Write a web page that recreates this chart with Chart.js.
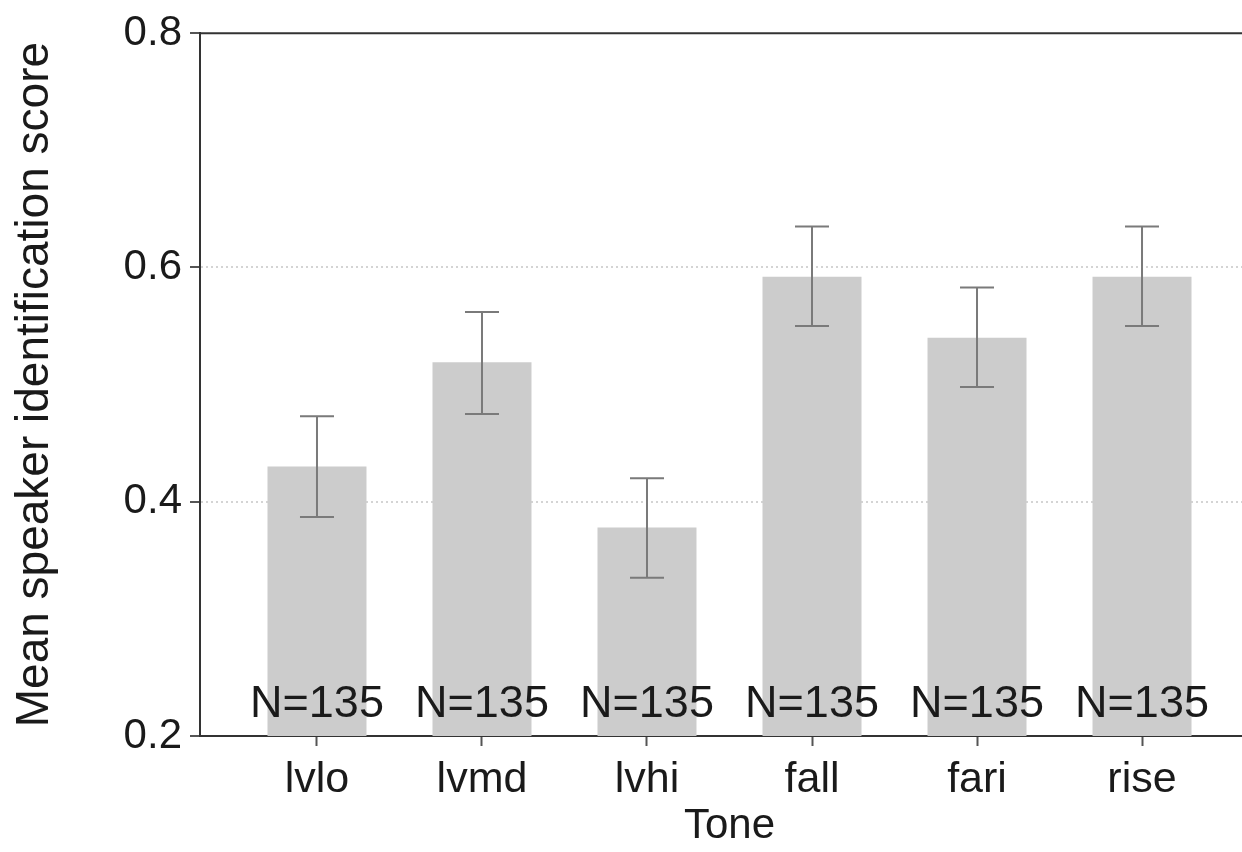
<!DOCTYPE html>
<html>
<head>
<meta charset="utf-8">
<script src="https://cdn.jsdelivr.net/npm/chart.js@4.4.0/dist/chart.umd.min.js"></script>
<style>
    html, body { margin: 0; padding: 0; background: #fff; overflow: hidden; }
    .chart-wrapper { width: 1280px; height: 852px; }
</style>
</head>
<body>
<div class="chart-wrapper"><canvas id="toneChart" width="1280" height="852"></canvas></div>
<script>
var tones = ['lvlo', 'lvmd', 'lvhi', 'fall', 'fari', 'rise'];
var meanScores = [0.430, 0.519, 0.378, 0.592, 0.540, 0.592];
var errLow = [0.387, 0.475, 0.335, 0.550, 0.498, 0.550];
var errHigh = [0.473, 0.562, 0.420, 0.635, 0.583, 0.635];
var counts = [135, 135, 135, 135, 135, 135];
var yTicks = [0.2, 0.4, 0.6, 0.8];

var fontFamily = '"Liberation Sans", Arial, Helvetica, sans-serif';

// error whiskers, top frame line and N= labels
var extrasPlugin = {
    id: 'extras',
    afterDatasetsDraw: function (chart) {
        var ctx = chart.ctx;
        var yScale = chart.scales.y;
        var area = chart.chartArea;
        var meta = chart.getDatasetMeta(0);
        ctx.save();
        ctx.strokeStyle = '#7a7a7a';
        ctx.lineWidth = 2;
        meta.data.forEach(function (bar, i) {
            var x = bar.x;
            var yLo = yScale.getPixelForValue(errLow[i]);
            var yHi = yScale.getPixelForValue(errHigh[i]);
            ctx.beginPath();
            ctx.moveTo(x, yLo);
            ctx.lineTo(x, yHi);
            ctx.moveTo(x - 17, yHi);
            ctx.lineTo(x + 17, yHi);
            ctx.moveTo(x - 17, yLo);
            ctx.lineTo(x + 17, yLo);
            ctx.stroke();
        });

        ctx.fillStyle = '#1a1a1a';
        ctx.font = '45px ' + fontFamily;
        ctx.textAlign = 'center';
        ctx.textBaseline = 'alphabetic';
        meta.data.forEach(function (bar, i) {
            ctx.fillText('N=' + counts[i], bar.x, area.bottom - 19);
        });

        ctx.strokeStyle = '#333';
        ctx.lineWidth = 2;
        ctx.beginPath();
        ctx.moveTo(area.left, area.top);
        ctx.lineTo(area.right, area.top);
        ctx.stroke();
        ctx.restore();
    }
};

var data = tones.map(function (t, i) {
    return {x: i, y: meanScores[i]};
});

new Chart(document.getElementById('toneChart').getContext('2d'), {
    type: 'bar',
    data: {
        datasets: [{
            label: 'Mean speaker identification score',
            data: data,
            backgroundColor: '#cccccc',
            borderWidth: 0,
            barPercentage: 0.6,
            categoryPercentage: 1.0
        }]
    },
    options: {
        responsive: false,
        animation: false,
        layout: {
            padding: {top: 32, right: 21, bottom: 0, left: 0}
        },
        plugins: {
            legend: {display: false},
            tooltip: {enabled: false}
        },
        scales: {
            x: {
                type: 'linear',
                offset: false,
                min: -0.709,
                max: 5.709,
                afterBuildTicks: function (scale) {
                    scale.ticks = tones.map(function (t, i) {
                        return {value: i};
                    });
                },
                afterFit: function (scale) {
                    scale.height = 116;
                },
                ticks: {
                    autoSkip: false,
                    maxRotation: 0,
                    padding: 8,
                    color: '#1a1a1a',
                    font: {size: 43, family: fontFamily},
                    callback: function (value) {
                        return tones[value];
                    }
                },
                grid: {
                    offset: false,
                    drawOnChartArea: false,
                    tickLength: 10,
                    tickColor: '#555',
                    tickWidth: 2
                },
                border: {color: '#333', width: 2},
                title: {
                    display: true,
                    text: 'Tone',
                    color: '#1a1a1a',
                    font: {size: 42, family: fontFamily},
                    padding: {top: 0, bottom: 0}
                }
            },
            y: {
                min: 0.2,
                max: 0.8,
                afterBuildTicks: function (scale) {
                    scale.ticks = yTicks.map(function (v) {
                        return {value: v};
                    });
                },
                afterFit: function (scale) {
                    scale.width = 200;
                },
                ticks: {
                    padding: 8,
                    color: '#1a1a1a',
                    font: {size: 42, family: fontFamily},
                    callback: function (value) {
                        return value.toFixed(1);
                    }
                },
                grid: {
                    color: function (c) {
                        var v = c.tick && c.tick.value;
                        return (v > 0.3 && v < 0.7) ? '#d4d4d4' : 'rgba(0,0,0,0)';
                    },
                    lineWidth: 2,
                    tickLength: 10,
                    tickColor: '#555',
                    tickWidth: 2,
                    tickBorderDash: []
                },
                border: {color: '#333', width: 2, dash: [2, 3]},
                title: {
                    display: true,
                    text: 'Mean speaker identification score',
                    color: '#1a1a1a',
                    font: {size: 46, family: fontFamily},
                    padding: {top: 8, bottom: 0}
                }
            }
        }
    },
    plugins: [extrasPlugin]
});
</script>
</body>
</html>
